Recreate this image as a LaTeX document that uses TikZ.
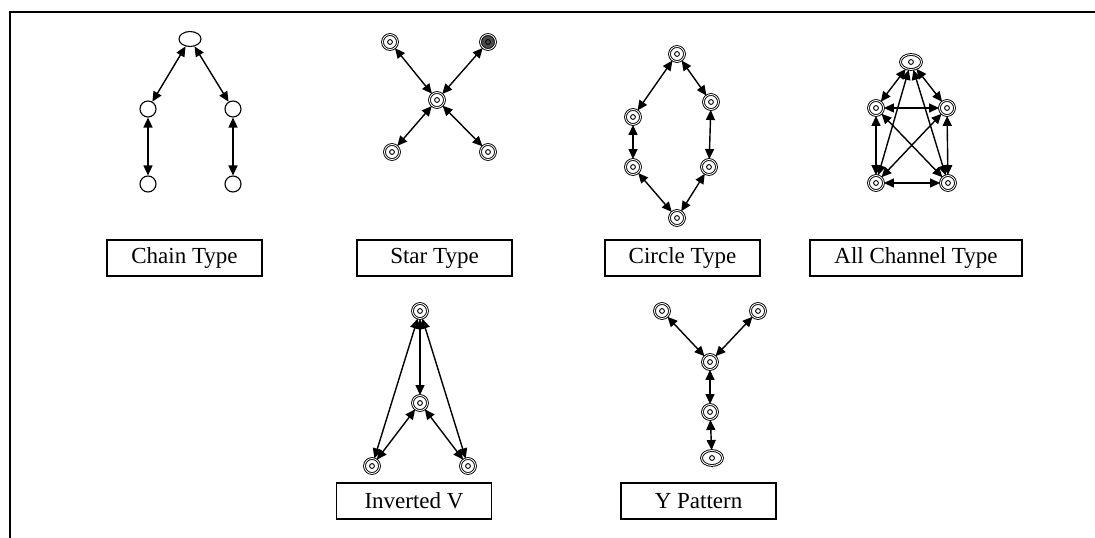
\documentclass[tikz,border=0pt]{standalone}
\usepackage{fontspec}
\setmainfont{Liberation Serif}
\usetikzlibrary{arrows.meta,shapes.geometric}
\begin{document}
\begin{tikzpicture}[x=1pt,y=-1pt,
  frameline/.style={line width=2.8pt},
  lbl/.style={draw,line width=1.5pt,minimum width=155pt,minimum height=36pt,inner sep=0pt,font=\fontsize{23}{27}\selectfont},
  snode/.style={circle,draw,line width=1.1pt,minimum size=16pt,inner sep=0pt},
  sell/.style={ellipse,draw,line width=1.1pt,minimum width=22pt,minimum height=15pt,inner sep=0pt},
  dnode/.style={circle,draw,line width=0.9pt,double,double distance=0.9pt,minimum size=15pt,inner sep=0pt,
     path picture={\draw[line width=0.9pt] (path picture bounding box.center) circle (2.4pt);}},
  dell/.style={dnode,ellipse,minimum width=21pt,minimum height=15pt},
  link/.style={line width=1.4pt,{Triangle[length=10pt,width=9pt]}-{Triangle[length=10pt,width=9pt]}}
]
\useasboundingbox (0,0) rectangle (1095,538);
\coordinate (fa) at (1095,12);
\coordinate (fb) at (10,12);
\coordinate (fc) at (10,538);
\draw[frameline] (fa) -- (fb) -- (fc);

% Chain
\node[sell] (c1) at (190,39) {};
\node[snode] (c2) at (148,109) {};
\node[snode] (c3) at (233,109) {};
\node[snode] (c4) at (148,184) {};
\node[snode] (c5) at (233,184) {};
\draw[link] (c1) -- (c2);
\draw[link] (c1) -- (c3);
\draw[link] (c2) -- (c4);
\draw[link] (c3) -- (c5);

% Star
\node[dnode] (s0) at (437,100) {};
\node[dnode] (s1) at (390,42) {};
\node[dnode,fill=black!70] (s2) at (488,42) {};
\node[dnode] (s3) at (392,152) {};
\node[dnode] (s4) at (488,152) {};
\foreach \n in {s1,s2,s3,s4} \draw[link] (s0) -- (\n);

% Circle
\node[dnode] (o1) at (677,54) {};
\node[dnode] (o2) at (711,102) {};
\node[dnode] (o3) at (633,117) {};
\node[dnode] (o4) at (633,167) {};
\node[dnode] (o5) at (709,167) {};
\node[dnode] (o6) at (677,218) {};
\draw[link] (o1) -- (o2);
\draw[link] (o1) -- (o3);
\draw[link] (o3) -- (o4);
\draw[link] (o2) -- (o5);
\draw[link] (o4) -- (o6);
\draw[link] (o5) -- (o6);

% All channel
\node[dell] (a1) at (911,62) {};
\node[dnode] (a2) at (876,108) {};
\node[dnode] (a3) at (947,108) {};
\node[dnode] (a4) at (876,183) {};
\node[dnode] (a5) at (948,183) {};
\draw[link] (a1) -- (a2);
\draw[link] (a1) -- (a3);
\draw[link] (a2) -- (a3);
\draw[link] (a2) -- (a4);
\draw[link] (a3) -- (a5);
\draw[link] (a4) -- (a5);
\draw[link] (a1) -- (a4);
\draw[link] (a1) -- (a5);
\draw[link] (a2) -- (a5);
\draw[link] (a3) -- (a4);

% Inverted V
\node[dnode] (v1) at (420,311) {};
\node[dnode] (v2) at (420,403) {};
\node[dnode] (v3) at (372,466) {};
\node[dnode] (v4) at (468,466) {};
\draw[link] (v1) -- (v2);
\draw[link] (v1) -- (v3);
\draw[link] (v1) -- (v4);
\draw[link] (v2) -- (v3);
\draw[link] (v2) -- (v4);

% Y pattern
\node[dnode] (y1) at (662,311) {};
\node[dnode] (y2) at (758,311) {};
\node[dnode] (y3) at (710,362) {};
\node[dnode] (y4) at (710,412) {};
\node[dell] (y5) at (712,458) {};
\draw[link] (y1) -- (y3);
\draw[link] (y2) -- (y3);
\draw[link] (y3) -- (y4);
\draw[link] (y4) -- (y5);

% Labels
\node[lbl] (l1) at (184.5,258) {Chain Type};
\node[lbl] (l2) at (434.5,258) {Star Type};
\node[lbl] (l3) at (682.5,258) {Circle Type};
\node[lbl,minimum width=212pt] (l4) at (916,258) {All Channel Type};
\node[lbl] (l5) at (414,501) {Inverted V};
\node[lbl] (l6) at (698.5,501) {Y Pattern};
\end{tikzpicture}
\end{document}
